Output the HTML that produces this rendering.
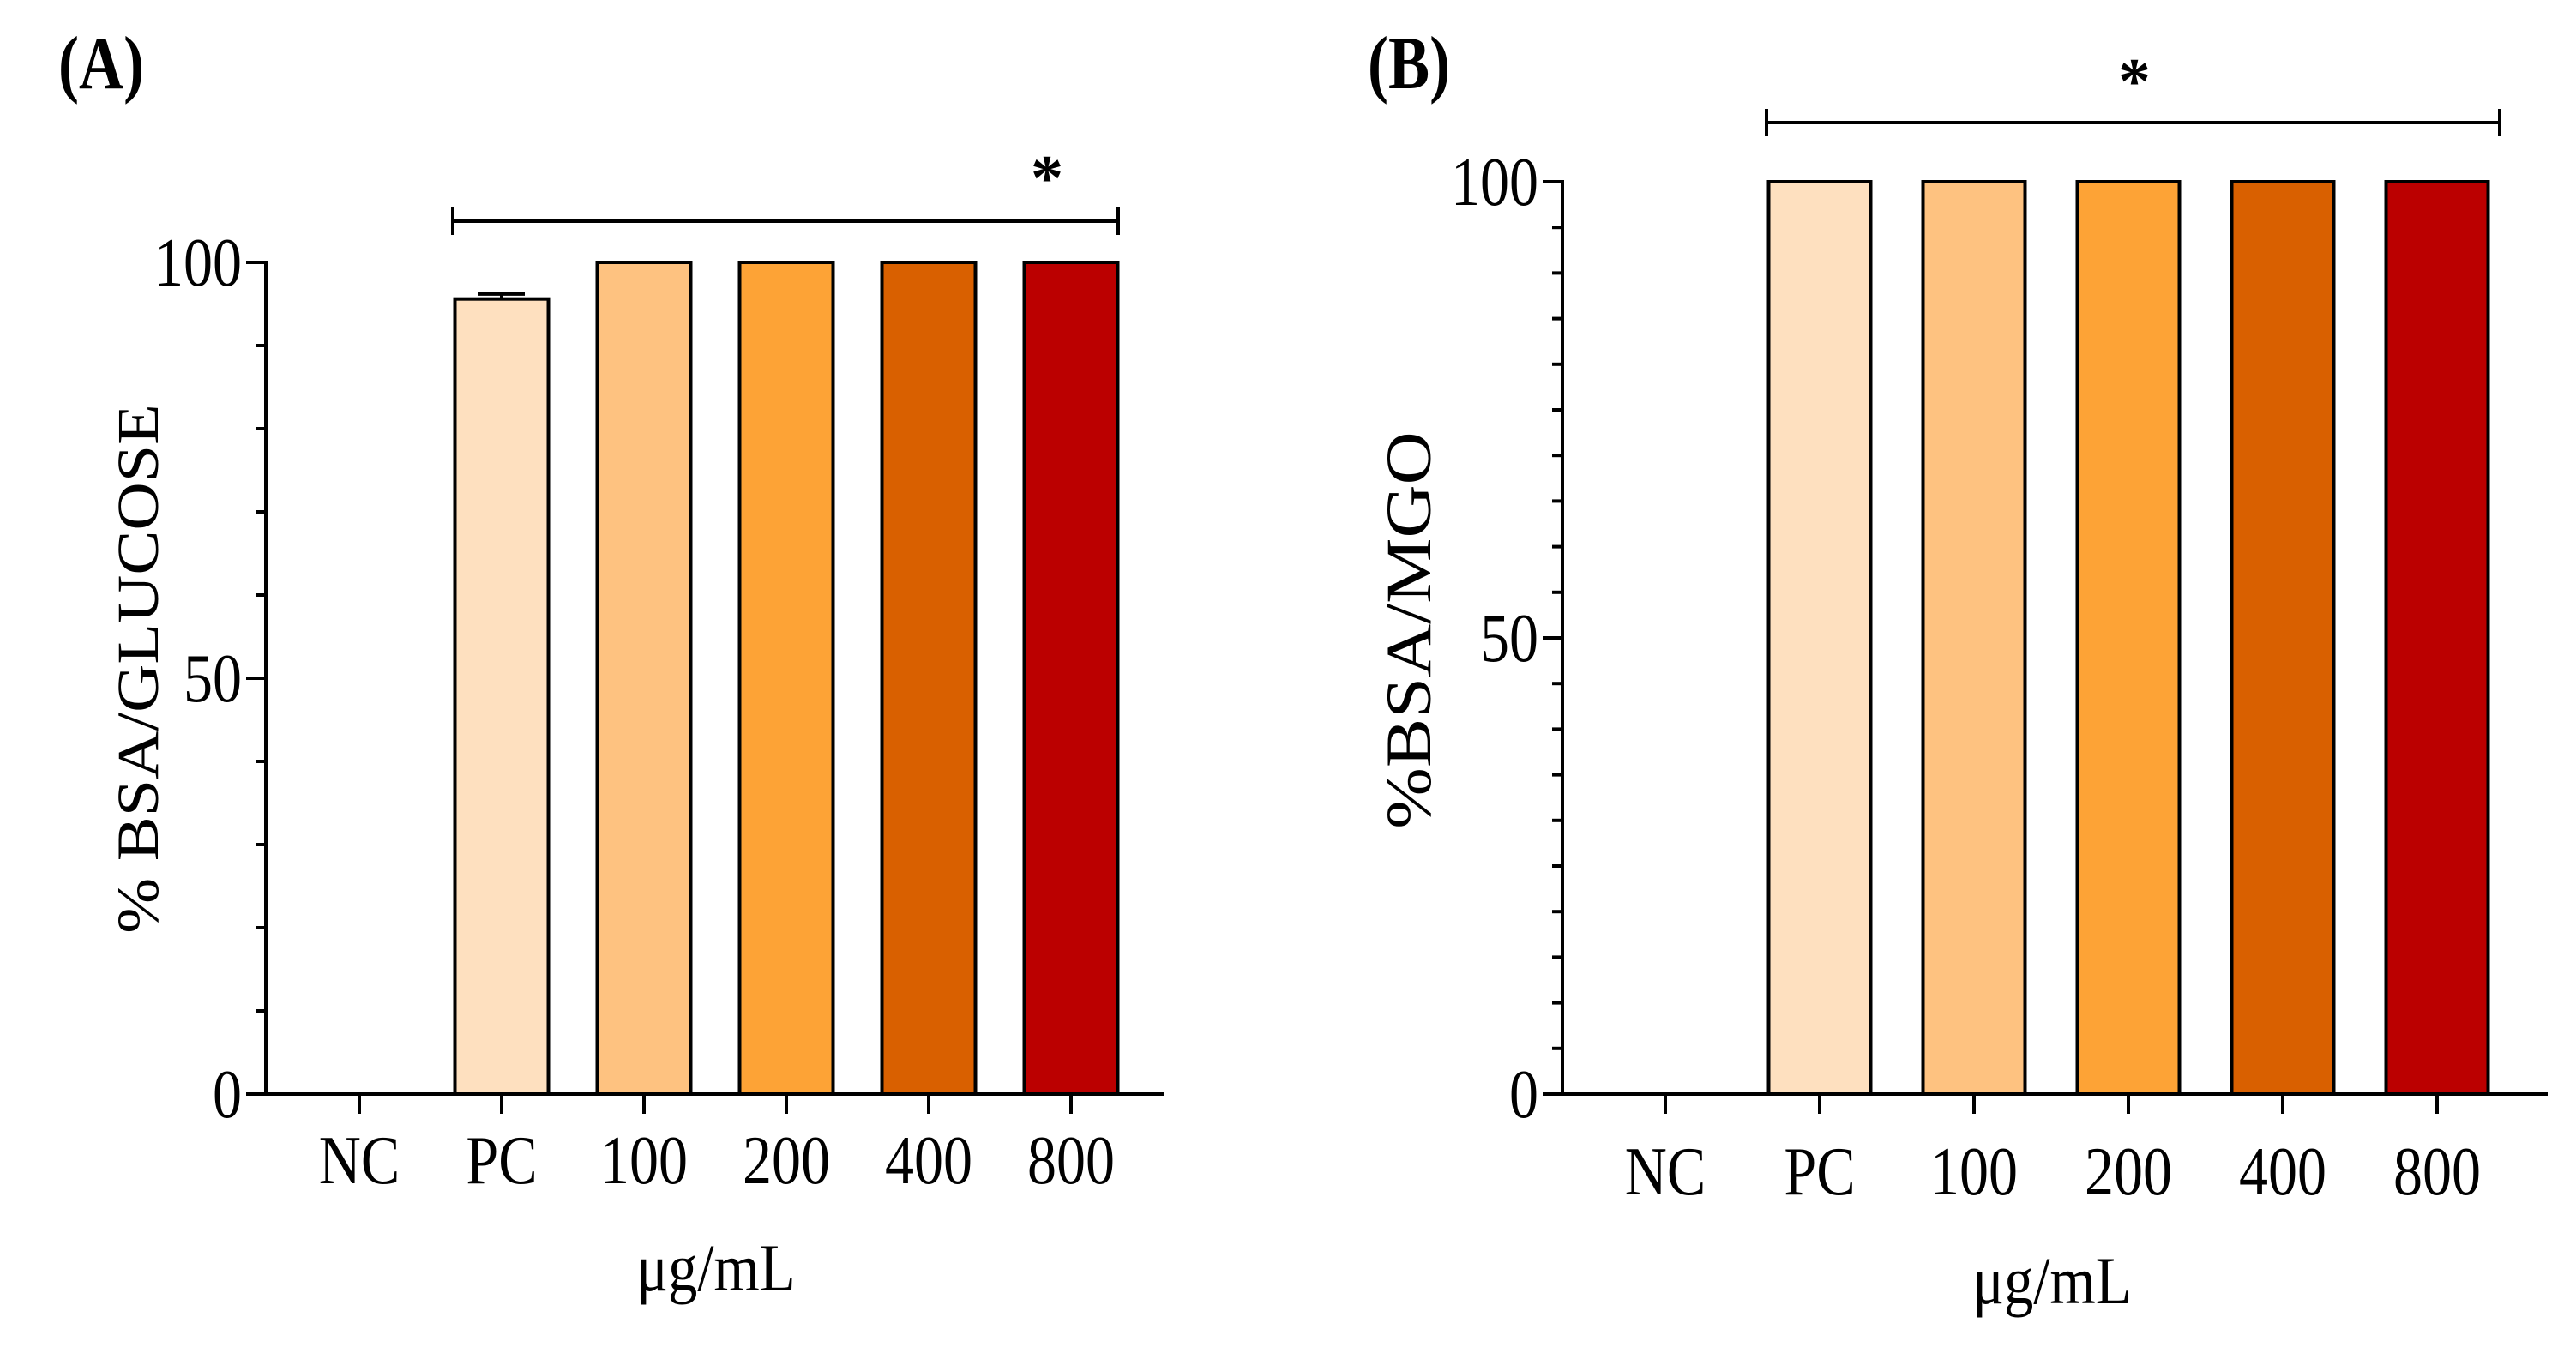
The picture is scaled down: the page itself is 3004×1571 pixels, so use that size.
<!DOCTYPE html>
<html><head><meta charset="utf-8"><style>
html,body{margin:0;padding:0;background:#fff;}
svg{display:block;}
text{font-family:"Liberation Serif",serif;fill:#000;}
</style></head><body>
<svg id="fig" width="3004" height="1571" viewBox="0 0 3004 1571" xmlns="http://www.w3.org/2000/svg">
<rect width="3004" height="1571" fill="#fff"/>
</svg>
<script>
const categories = ["NC","PC","100","200","400","800"];
const colors = ["#ffffff","#fee0bf","#fec280","#fda336","#d96000","#bb0000"];
const valuesA = [0, 95.6, 100, 100, 100, 100];
const errorsA = [0, 0.6, 0, 0, 0, 0];
const valuesB = [0, 100, 100, 100, 100, 100];
const errorsB = [0, 0, 0, 0, 0, 0];
const yTicks = [0, 50, 100];

const NS = "http://www.w3.org/2000/svg";
const svg = document.getElementById("fig");
function el(tag, attrs, parent){
  const e = document.createElementNS(NS, tag);
  for (const k in attrs) e.setAttribute(k, attrs[k]);
  (parent||svg).appendChild(e);
  return e;
}
function txt(parent, str, x, y, size, anchor, sx, extra){
  const a = Object.assign({x: 0, y: 0, "text-anchor": anchor, "font-size": size, transform: `translate(${x},${y}) scale(${sx},1)`}, extra||{});
  const t = el("text", a, parent);
  t.textContent = str;
  return t;
}

function panel(cfg){
  const g = el("g", {});
  
  
  const yS = v => cfg.y0 - (cfg.y0 - cfg.y100) * v / 100;
  const xS = i => cfg.x0 + cfg.step * i;
  const lw = 4;
  cfg.values.forEach((v, i) => {
    if (v <= 0) return;
    const r = el("rect", {x: xS(i) - cfg.bw/2, y: yS(v), width: cfg.bw, height: yS(0) - yS(v), fill: colors[i], stroke: "#000", "stroke-width": lw}, g);
    
    
    if (cfg.errors[i] > 0) {
      const t = yS(v + cfg.errors[i]);
      const eb = el("path", {d: `M${xS(i)},${yS(v)}V${t}M${xS(i)-27},${t}H${xS(i)+27}`, stroke: "#000", "stroke-width": lw, fill: "none"}, g);
      
      
    }
  });
  const ya = el("line", {x1: cfg.ax, y1: yS(0) + 2, x2: cfg.ax, y2: yS(100) - 2, stroke: "#000", "stroke-width": lw}, g);
  
  
  for (let v = 0; v <= 100; v += cfg.minor) {
    const major = yTicks.includes(v);
    const t = el("line", {x1: cfg.ax - (major ? 23 : 12), y1: yS(v), x2: cfg.ax, y2: yS(v), stroke: "#000", "stroke-width": lw}, g);
    
    
  }
  yTicks.forEach(v => {
    const t = txt(g, String(v), cfg.ax - 28, yS(v) + 27, 80, "end", 0.85);
    
    
  });
  const xa = el("line", {x1: cfg.ax - 2, y1: yS(0), x2: cfg.axEnd, y2: yS(0), stroke: "#000", "stroke-width": lw}, g);
  
  
  categories.forEach((c, i) => {
    const t = el("line", {x1: xS(i), y1: yS(0), x2: xS(i), y2: yS(0) + 23, stroke: "#000", "stroke-width": lw}, g);
    
    
    const l = txt(g, c, xS(i), cfg.xlabY, 80, "middle", 0.85);
    
    
  });
  const xt = txt(g, "μg/mL", cfg.xtX, cfg.xtY, 78, "middle", 0.88);
  
  
  const yt = el("text", {x: 0, y: 0, "text-anchor": "middle", "font-size": cfg.ytSize, transform: `translate(${cfg.ytX},${cfg.ytY}) rotate(-90) scale(1,0.88)`}, g);
  yt.textContent = cfg.ytitle;
  
  
  const br = el("path", {d: `M${cfg.brL},${cfg.brY-16}V${cfg.brY+16}M${cfg.brL},${cfg.brY}H${cfg.brR}M${cfg.brR},${cfg.brY-16}V${cfg.brY+16}`, stroke: "#000", "stroke-width": lw, fill: "none"}, g);
  
  
  const st = el("text", {x: cfg.starX, y: cfg.starY, "text-anchor": "middle", "font-size": 76, "font-weight": "bold"}, g);
  st.textContent = "*";
  
  
  const pl = txt(g, cfg.label, cfg.plX, 103, 88, "start", 0.82, {"font-weight": "bold"});
  
  
}

panel({name: "panel-a", values: valuesA, errors: errorsA, x0: 419, step: 166, bw: 109, ax: 310, axEnd: 1357,
  y0: 1276, y100: 306, minor: 10, xlabY: 1380, xtX: 835, xtY: 1505, ytX: 184, ytY: 780, ytSize: 78, ytitle: "% BSA/GLUCOSE",
  brL: 528, brR: 1304, brY: 258, starX: 1221, starY: 233, plX: 68, label: "(A)"});
panel({name: "panel-b", values: valuesB, errors: errorsB, x0: 1942, step: 180, bw: 119, ax: 1822, axEnd: 2971,
  y0: 1276, y100: 212, minor: 5, xlabY: 1393, xtX: 2393, xtY: 1520, ytX: 1668, ytY: 735, ytSize: 86, ytitle: "%BSA/MGO",
  brL: 2060, brR: 2915, brY: 143, starX: 2489, starY: 120, plX: 1595, label: "(B)"});
</script>
</body></html>
